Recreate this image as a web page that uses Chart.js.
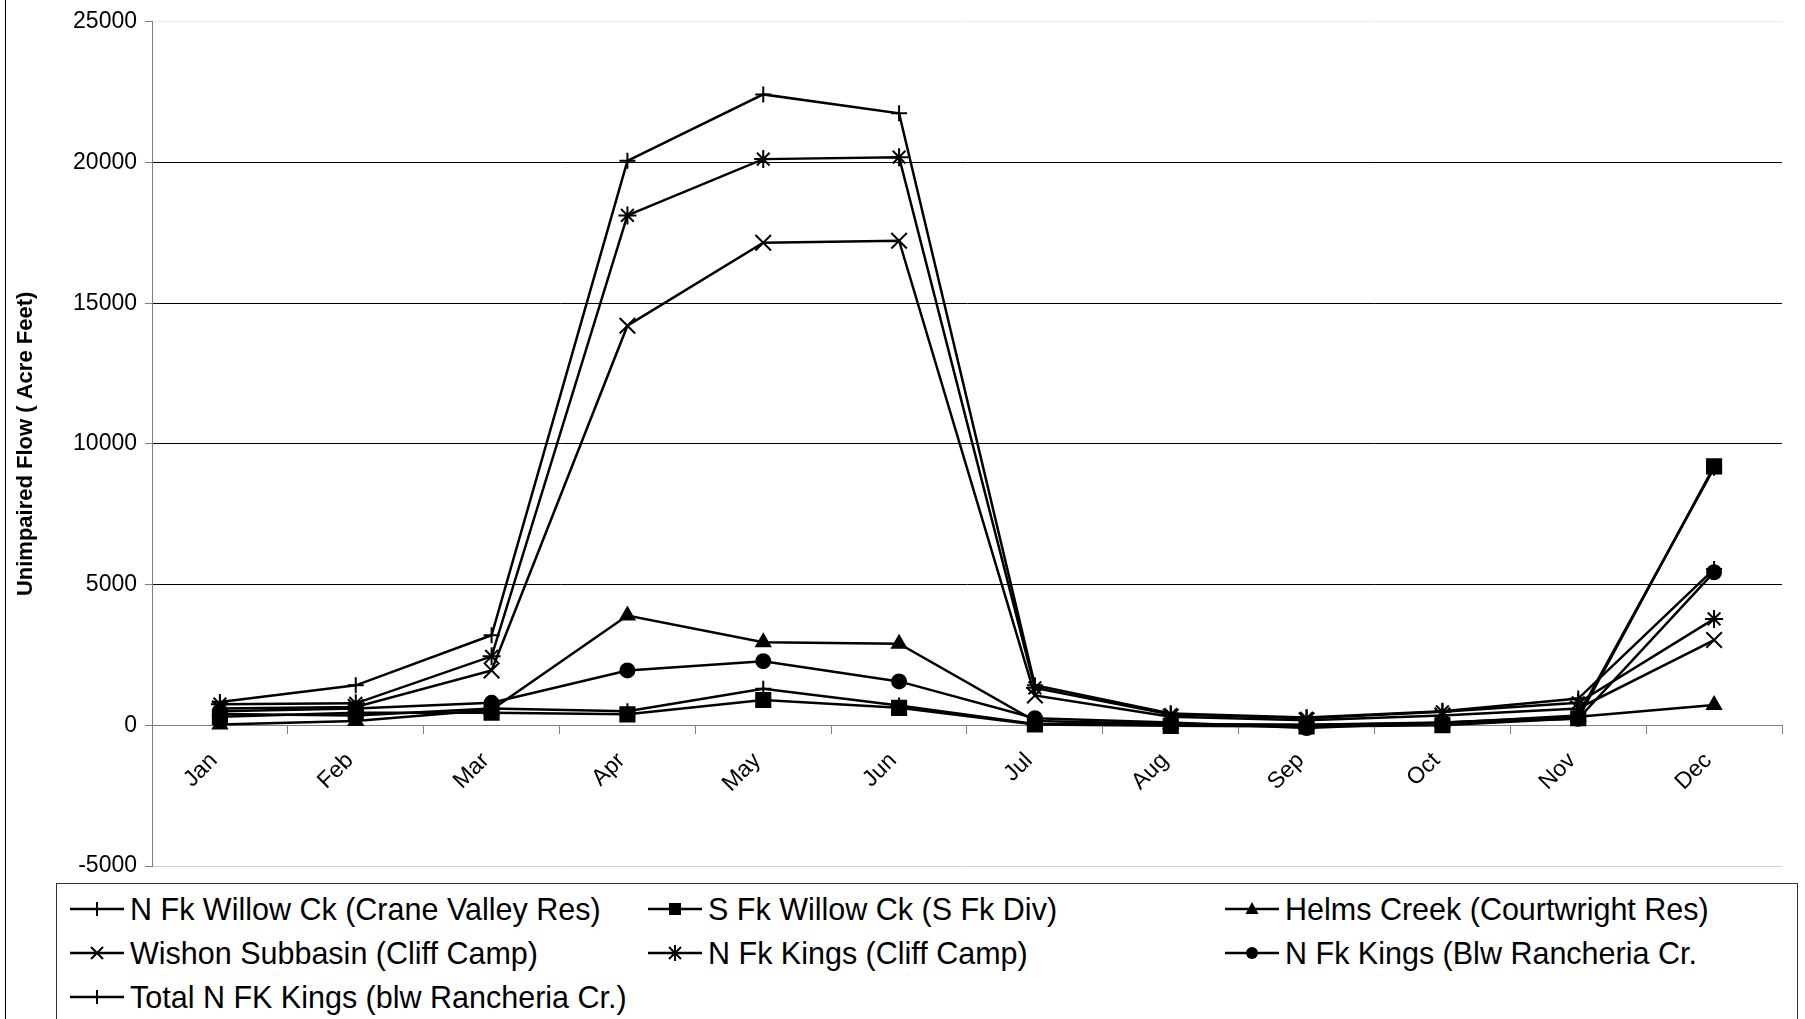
<!DOCTYPE html>
<html>
<head>
<meta charset="utf-8">
<script src="https://cdn.jsdelivr.net/npm/chart.js@4.4.0/dist/chart.umd.min.js"></script>
<style>
  html, body { margin: 0; padding: 0; background: #fff; }
  #wrap { position: relative; width: 1805px; height: 1019px; overflow: hidden; font-family: "Liberation Sans", Arial, sans-serif; }
  #frame { position: absolute; left: 5px; top: -2px; width: 1830px; height: 1040px; border-left: 1px solid #000; }
  #chart { position: absolute; left: 0; top: 0; }
  #legend { position: absolute; left: 56px; top: 883px; width: 1740px; height: 170px; border: 1px solid #333; background: #fff; }
  .item { position: absolute; display: flex; align-items: center; font-size: 30.5px; color: #000; white-space: nowrap; height: 40px; }
  .item svg { margin-right: 6px; }
</style>
</head>
<body>
<div id="wrap">
  <div id="frame"></div>
  <canvas id="chart" width="1805" height="1019"></canvas>
  <div id="legend"></div>
</div>
<script>
// months on the x axis
const months = ["Jan", "Feb", "Mar", "Apr", "May", "Jun", "Jul", "Aug", "Sep", "Oct", "Nov", "Dec"];

// unimpaired flow, acre feet
const nFkWillow  = [400, 350, 600, 500, 1300, 700, 50, 20, 10, 80, 350, 9150];
const sFkWillow  = [300, 450, 450, 390, 900, 620, 30, -20, -40, 0, 250, 9200];
const helms      = [30, 150, 550, 3900, 2950, 2900, 150, 50, 20, 100, 300, 720];
const wishon     = [600, 650, 1950, 14200, 17150, 17220, 1060, 300, 180, 350, 600, 3030];
const nFkCliff   = [750, 780, 2450, 18120, 20120, 20190, 1330, 380, 250, 480, 800, 3780];
const nFkBlw     = [500, 600, 800, 1950, 2280, 1560, 250, 100, -100, 100, 230, 5440];
const totalNFk   = [830, 1420, 3200, 20060, 22420, 21750, 1420, 420, 280, 500, 950, 5550];

const seriesNames = [
  "N Fk Willow Ck (Crane Valley Res)",
  "S Fk Willow Ck (S Fk Div)",
  "Helms Creek (Courtwright Res)",
  "Wishon Subbasin (Cliff Camp)",
  "N Fk Kings (Cliff Camp)",
  "N Fk Kings (Blw Rancheria Cr.",
  "Total N FK Kings (blw Rancheria Cr.)"
];
const seriesData = [nFkWillow, sFkWillow, helms, wishon, nFkCliff, nFkBlw, totalNFk];
const markers = ["cross", "rect", "triangle", "crossRot", "star", "circle", "cross"];
const markerSize = { cross: 8, rect: 10, triangle: 8, crossRot: 11, star: 9, circle: 7 };

const yTicks = [-5000, 0, 5000, 10000, 15000, 20000, 25000];

const datasets = seriesData.map((d, i) => ({
  label: seriesNames[i],
  data: d,
  borderColor: "#000",
  backgroundColor: "#000",
  borderWidth: 2.5,
  pointStyle: markers[i],
  pointRadius: markerSize[markers[i]],
  pointBorderWidth: 2,
  pointBackgroundColor: "#000",
  pointBorderColor: "#000",
  tension: 0,
  fill: false
}));

const ctx = document.getElementById("chart");
new Chart(ctx, {
  type: "line",
  data: { labels: months, datasets: datasets },
  options: {
    responsive: false,
    animation: false,
    layout: { padding: { left: 0, right: 23, top: 19, bottom: 153 } },
    plugins: {
      legend: { display: false },
      tooltip: { enabled: false }
    },
    scales: {
      x: {
        type: "category",
        offset: true,
        position: { y: 0 },
        ticks: {
          color: "#000",
          font: { family: "Liberation Sans, Arial", size: 23 },
          minRotation: 45,
          maxRotation: 45,
          padding: 14,
          labelOffset: -6
        },
        grid: {
          offset: true,
          drawOnChartArea: false,
          tickLength: 8,
          color: "#808080"
        },
        border: { color: "#808080", width: 1 }
      },
      y: {
        min: -5000,
        max: 25000,
        afterFit: (scale) => { scale.width = 152; },
        afterBuildTicks: (scale) => { scale.ticks = yTicks.map(v => ({ value: v })); },
        ticks: {
          color: "#000",
          font: { family: "Liberation Sans, Arial", size: 23 },
          padding: 8,
          callback: (v) => String(v)
        },
        grid: {
          tickLength: 7,
          tickColor: "#808080",
          color: (c) => {
            const v = c.tick ? c.tick.value : null;
            if (v === 25000) return "#eeeeee";
            if (v === -5000) return "#d4d4d4";
            if (v === 0) return "#808080";
            return "#000";
          },
          lineWidth: 1
        },
        border: { color: "#808080", width: 1 },
        title: {
          display: true,
          text: "Unimpaired Flow ( Acre Feet)",
          color: "#000",
          font: { family: "Liberation Sans, Arial", size: 22, weight: "bold" },
          padding: { top: 13, bottom: 0 }
        }
      }
    }
  }
});

// legend in three columns, like the original
const legendCols = [13, 591, 1168];
const legendRows = [5, 49, 93];
function markerSvg(style) {
  let m = "";
  const cx = 27, cy = 20;
  if (style === "cross") m = `<line x1="${cx}" y1="${cy - 7}" x2="${cx}" y2="${cy + 7}" stroke="#000" stroke-width="2"/>`;
  if (style === "rect") m = `<rect x="${cx - 6}" y="${cy - 6}" width="12" height="12" fill="#000"/>`;
  if (style === "triangle") m = `<polygon points="${cx},${cy - 7} ${cx + 6.5},${cy + 5} ${cx - 6.5},${cy + 5}" fill="#000"/>`;
  if (style === "crossRot") m = `<path d="M${cx - 6} ${cy - 6}L${cx + 6} ${cy + 6}M${cx + 6} ${cy - 6}L${cx - 6} ${cy + 6}" stroke="#000" stroke-width="2"/>`;
  if (style === "star") m = `<path d="M${cx - 6} ${cy - 6}L${cx + 6} ${cy + 6}M${cx + 6} ${cy - 6}L${cx - 6} ${cy + 6}M${cx} ${cy - 8}L${cx} ${cy + 8}" stroke="#000" stroke-width="2"/>`;
  if (style === "circle") m = `<circle cx="${cx}" cy="${cy}" r="6" fill="#000"/>`;
  return `<svg width="54" height="40"><line x1="0" y1="${cy}" x2="54" y2="${cy}" stroke="#000" stroke-width="2.5"/>${m}</svg>`;
}
const legend = document.getElementById("legend");
seriesNames.forEach((name, i) => {
  const el = document.createElement("div");
  el.className = "item";
  el.style.left = legendCols[i % 3] + "px";
  el.style.top = legendRows[Math.floor(i / 3)] + "px";
  el.innerHTML = markerSvg(markers[i]) + "<span>" + name + "</span>";
  legend.appendChild(el);
});
</script>
</body>
</html>
